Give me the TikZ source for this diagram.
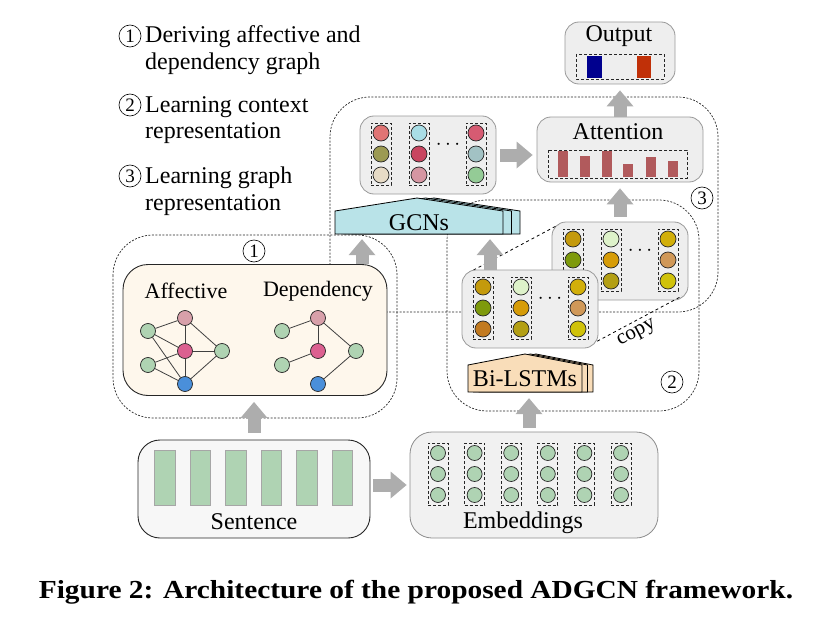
\documentclass[tikz,border=0pt]{standalone}
\usepackage{fontspec}
\usepackage{graphicx}
\setmainfont{Liberation Serif}
\usetikzlibrary{arrows.meta,positioning,calc}

% colours
\definecolor{panelgray}{HTML}{EEEEEE}
\definecolor{embgray}{HTML}{F1F1F1}
\definecolor{sentgray}{HTML}{F7F7F7}
\definecolor{cream}{HTML}{FEF7EC}
\definecolor{arrowgray}{HTML}{ADADAD}
\definecolor{unitgreen}{HTML}{AFD3B3}
\definecolor{gcnfill}{HTML}{B9E3E8}
\definecolor{lstmfill}{HTML}{F9DDB9}
\definecolor{attred}{HTML}{B15A5C}
\definecolor{outblue}{HTML}{00008E}
\definecolor{outred}{HTML}{C03008}
\definecolor{ggreen}{HTML}{AFD3B2}
\definecolor{gpink}{HTML}{D8A0AA}
\definecolor{gmag}{HTML}{DC6090}
\definecolor{gblue}{HTML}{4A8FDA}
% GCN outputs
\definecolor{gc11}{HTML}{E07474}
\definecolor{gc12}{HTML}{9C9A52}
\definecolor{gc13}{HTML}{E7DBC6}
\definecolor{gc21}{HTML}{A9DEE6}
\definecolor{gc22}{HTML}{C94560}
\definecolor{gc23}{HTML}{D596A2}
\definecolor{gc31}{HTML}{D65B72}
\definecolor{gc32}{HTML}{A2C2C4}
\definecolor{gc33}{HTML}{94CB96}
% Bi-LSTM outputs
\definecolor{ls11}{HTML}{C49A0C}
\definecolor{ls12}{HTML}{7E9A0C}
\definecolor{ls13}{HTML}{C27A20}
\definecolor{ls21}{HTML}{DEF2CA}
\definecolor{ls22}{HTML}{D69C08}
\definecolor{ls23}{HTML}{B39F14}
\definecolor{ls31}{HTML}{D2AF0A}
\definecolor{ls32}{HTML}{D09858}
\definecolor{ls33}{HTML}{D0C20A}

\tikzset{
  box/.style={draw=black!40, fill=panelgray, line width=0.8pt, rounded corners=14pt, inner sep=0pt},
  colbox/.style={draw=black!85, dash pattern=on 3pt off 2pt, line width=0.9pt, minimum width=20pt, minimum height=62pt, inner sep=0pt},
  unit/.style={circle, draw=black!85, line width=0.7pt, minimum size=16pt, inner sep=0pt},
  vertex/.style={circle, draw=black!85, line width=0.7pt, minimum size=15pt, inner sep=0pt},
  gedge/.style={draw=black!75, line width=0.8pt},
  region/.style={draw=black!85, dash pattern=on 2pt off 1.5pt, line width=0.7pt, rounded corners=40pt},
  fat/.style={line width=13pt, draw=arrowgray, -{Triangle[length=16pt,width=27pt,line width=0pt]}},
  stepnum/.style={circle, draw, line width=0.6pt, minimum size=22pt, inner sep=0pt, font=\fontsize{19}{19}\selectfont},
  lbl/.style={inner sep=0pt, font=\fontsize{24}{27}\selectfont},
  dots/.style={inner sep=0pt, font=\fontsize{20}{20}\selectfont},
}

% feature box: name, centre, colour prefix
\newcommand{\featbox}[3]{%
  \node[box, minimum width=136pt, minimum height=78pt] (#1) at (#2) {};
  \foreach \ci/\dx in {1/-47,2/-9,3/48} {
    \node[colbox] (#1c\ci) at ($(#1.center)+(\dx,-1)$) {};
    \foreach \ri/\dy in {1/-22,2/-1,3/20}
      \node[unit, fill=#3\ci\ri] (#1u\ci\ri) at ($(#1.center)+(\dx,\dy)$) {};
  }
  \node[dots] (#1dots) at ($(#1.center)+(20,-10)$) {$\cdots$};
}

\begin{document}
\begin{tikzpicture}[x=1pt,y=-1pt,>=stealth]
\useasboundingbox (0,0) rectangle (825,642);

%%%%%%%%%%%%%%%%%%%%%%%%%%%%%%%%%%%%%%%%%%
% Dashed regions
\draw[region] (330,97) rectangle (718,312);
\draw[region] (447,200) rectangle (699,411);
\draw[region] (113,235) rectangle (397,418);
\node[stepnum] (r1) at (254,251) {1};
\node[stepnum] (r2) at (672,382) {2};
\node[stepnum] (r3) at (702,198) {3};

%%%%%%%%%%%%%%%%%%%%%%%%%%%%%%%%%%%%%%%%%%
% Legend (base = last line)
\node[stepnum] (s1) at (130,36) {1};
\node[lbl, align=left, anchor=base west] (leg1) at (145,70) {Deriving affective and\\dependency graph};
\node[stepnum] (s2) at (130,105) {2};
\node[lbl, align=left, anchor=base west] (leg2) at (145,139) {Learning context\\representation};
\node[stepnum] (s3) at (130,176) {3};
\node[lbl, align=left, anchor=base west] (leg3) at (145,210) {Learning graph\\representation};

%%%%%%%%%%%%%%%%%%%%%%%%%%%%%%%%%%%%%%%%%%
% Output and attention
\node[box, minimum width=110pt, minimum height=62pt] (out) at (620,53) {};
\node[lbl] (outtxt) at (619,36) {Output};
\draw[colbox] (576,54) rectangle (664,79);
\fill[outblue] (587,56) rectangle (602,78);
\fill[outred] (637,56) rectangle (651,78);

\node[box, minimum width=166pt, minimum height=65pt] (att) at (620,149.5) {};
\node[lbl] (atttxt) at (618,132) {Attention};
\draw[colbox] (548,150) rectangle (687,178);
\foreach \bx/\by in {558/151, 580/156, 602/151, 623/164, 646/157, 668/161}
  \fill[attred] (\bx,\by) rectangle (\bx+10,177);

%%%%%%%%%%%%%%%%%%%%%%%%%%%%%%%%%%%%%%%%%%
% GCN outputs and GCN layers
\featbox{gcnout}{428,155}{gc}
\foreach \s in {2,1,0}
  \draw[fill=gcnfill, line width=0.8pt, shift={(8.5*\s,0)}]
    (335,234) -- (335,211) -- (417,198) -- (503,211) -- (503,234) -- cycle;
\node[lbl, minimum width=168pt, minimum height=23pt] (gcn) at (419,222.5) {GCNs};

%%%%%%%%%%%%%%%%%%%%%%%%%%%%%%%%%%%%%%%%%%
% Affective and dependency graphs
\node[draw=black!85, fill=cream, line width=0.9pt, rounded corners=25pt,
      minimum width=264pt, minimum height=131pt] (gpanel) at (255,330) {};
\node[lbl, font=\fontsize{22}{24}\selectfont] (afftxt) at (186,291) {Affective};
\node[lbl, font=\fontsize{22}{24}\selectfont] (deptxt) at (318,291) {Dependency};

\node[vertex, fill=gpink]  (a1) at (185,318) {};
\node[vertex, fill=ggreen] (a2) at (148,331) {};
\node[vertex, fill=gmag]   (a3) at (185,351) {};
\node[vertex, fill=ggreen] (a4) at (222,351) {};
\node[vertex, fill=ggreen] (a5) at (148,365) {};
\node[vertex, fill=gblue]  (a6) at (185,384) {};
\foreach \u/\v in {a2/a1, a2/a3, a2/a6, a1/a3, a1/a4, a3/a4, a3/a6, a5/a3, a5/a6, a6/a4}
  \draw[gedge] (\u) -- (\v);

\node[vertex, fill=gpink]  (d1) at (318,318) {};
\node[vertex, fill=ggreen] (d2) at (282,331) {};
\node[vertex, fill=gmag]   (d3) at (318,351) {};
\node[vertex, fill=ggreen] (d4) at (356,351) {};
\node[vertex, fill=ggreen] (d5) at (282,365) {};
\node[vertex, fill=gblue]  (d6) at (318,384) {};
\foreach \u/\v in {d2/d1, d1/d3, d1/d4, d5/d3, d4/d6}
  \draw[gedge] (\u) -- (\v);

%%%%%%%%%%%%%%%%%%%%%%%%%%%%%%%%%%%%%%%%%%
% Bi-LSTM outputs (copy behind)
\featbox{lstmb}{620,261}{ls}
\draw[dashed, line width=0.8pt] (468,273) coordinate (cpa) -- ++(90,-48) coordinate (cpb);
\draw[dashed, line width=0.8pt] (592,344) coordinate (cpc) -- ++(90,-48) coordinate (cpd);
\featbox{lstmf}{530,309}{ls}
\node[lbl, font=\fontsize{21}{21}\selectfont, rotate=28] (copytxt) at (637,334) {copy};

% Bi-LSTM layers
\foreach \s in {2,1,0}
  \draw[fill=lstmfill, line width=0.8pt, shift={(5.5*\s,0)}]
    (468,392) -- (468,365) -- (525,354) -- (582,365) -- (582,392) -- cycle;
\node[lbl, minimum width=114pt, minimum height=27pt] (lstm) at (525,378.5) {Bi-LSTMs};

%%%%%%%%%%%%%%%%%%%%%%%%%%%%%%%%%%%%%%%%%%
% Sentence and embeddings
\node[draw=black!85, fill=sentgray, line width=0.9pt, rounded corners=22pt,
      minimum width=232pt, minimum height=98pt] (sent) at (254,489) {};
\foreach \i in {0,...,5}
  \node[draw=black!35, fill=unitgreen, minimum width=20.5pt, minimum height=55pt, inner sep=0pt] (w\i) at (164.5+35.5*\i,477.5) {};
\node[lbl] (senttxt) at (254,522) {Sentence};

\node[draw=black!45, fill=embgray, line width=0.8pt, rounded corners=22pt,
      minimum width=248pt, minimum height=106pt] (emb) at (534,485) {};
\foreach \i in {0,...,5} {
  \node[colbox] (e\i) at (438+36.6*\i,474) {};
  \foreach \ri/\dy in {1/-21,2/0,3/21}
    \node[vertex, fill=unitgreen] (e\i u\ri) at (438+36.6*\i,474+\dy) {};
}
\node[lbl] (embtxt) at (523,523) {Embeddings};

%%%%%%%%%%%%%%%%%%%%%%%%%%%%%%%%%%%%%%%%%%
% Block arrows
\draw[fat, shorten <=3pt, shorten >=3pt] ([yshift=4pt]sent.east) -- ([yshift=4pt]sent.east -| emb.west);
\draw[fat, shorten <=7pt, shorten >=6pt] (sent.north) -- (sent.north |- gpanel.south);
\draw[fat, shorten <=4pt, shorten >=6pt] ([xshift=4pt]lstm.south |- emb.north) -- ([xshift=4pt]lstm.south);
\draw[fat, shorten >=5pt] ([xshift=-57pt]gcn.south |- gpanel.north) -- ([xshift=-57pt]gcn.south);
\draw[fat, shorten >=5pt] ([xshift=-40pt]lstmf.north) -- ([xshift=-40pt]lstmf.north |- gcn.south);
\draw[fat, shorten <=4pt, shorten >=4pt] (gcnout.east) -- (gcnout.east -| att.west);
\draw[fat, shorten <=5pt, shorten >=6pt] (lstmb.north) -- (att.south);
\draw[fat, shorten >=6pt] (att.north) -- (out.south);

%%%%%%%%%%%%%%%%%%%%%%%%%%%%%%%%%%%%%%%%%%
% Caption
\node[inner sep=0pt, font=\bfseries\fontsize{26}{30}\selectfont] (cap) at (416,592)
  {\scalebox{1.13}[1]{Figure 2: Architecture of the proposed ADGCN framework.}};

\end{tikzpicture}
\end{document}
